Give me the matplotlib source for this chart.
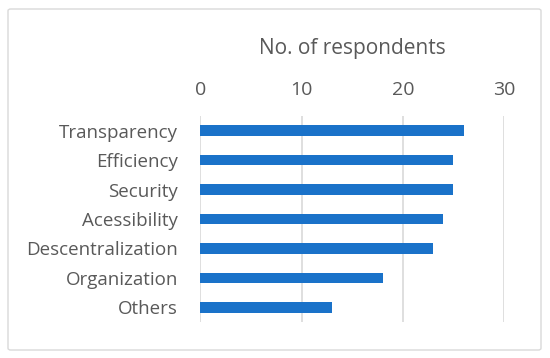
import matplotlib
matplotlib.use('Agg')
import matplotlib.pyplot as plt
from matplotlib.patches import FancyBboxPatch

# data
categories = ['Transparency', 'Efficiency', 'Security', 'Acessibility',
              'Descentralization', 'Organization', 'Others']
respondents = [26, 25, 25, 24, 23, 18, 13]
x_ticks = [0, 10, 20, 30]
axis_title = 'No. of respondents'

text_color = '#595959'
bar_color = '#1a72c9'
grid_color = '#d9d9d9'

plt.rcParams['font.family'] = ['Open Sans', 'DejaVu Sans']

fig = plt.figure(figsize=(5.5, 3.58), dpi=100)
ax = fig.add_axes([200.3 / 550, 1 - 322 / 358, (504 - 200.3) / 550, (322 - 116) / 358])

# outer chart border
fig.patches.append(FancyBboxPatch((8 / 550, 8 / 358), 533 / 550, 341 / 358,
                                  boxstyle='round,pad=0,rounding_size=0.005',
                                  transform=fig.transFigure, fill=False,
                                  edgecolor=grid_color, linewidth=1))

y = list(range(len(categories)))
ax.barh(y, respondents, height=0.36, color=bar_color, zorder=3)

ax.set_ylim(len(categories) - 0.5, -0.5)
ax.set_xlim(0, 30)
ax.set_yticks(y)
ax.set_yticklabels(categories, fontsize=13.5, color=text_color)
ax.set_xticks(x_ticks)
ax.set_xticklabels([str(t) for t in x_ticks], fontsize=14, color=text_color)

ax.xaxis.tick_top()
ax.xaxis.set_label_position('top')
ax.set_xlabel(axis_title, fontsize=15, color=text_color, labelpad=20)

ax.tick_params(axis='both', length=0)
ax.tick_params(axis='x', pad=12)
ax.tick_params(axis='y', pad=16)

for spine in ax.spines.values():
    spine.set_visible(False)
ax.grid(axis='x', color=grid_color, linewidth=1.2, zorder=0)
ax.set_axisbelow(True)

fig.savefig('out.png', dpi=100)
